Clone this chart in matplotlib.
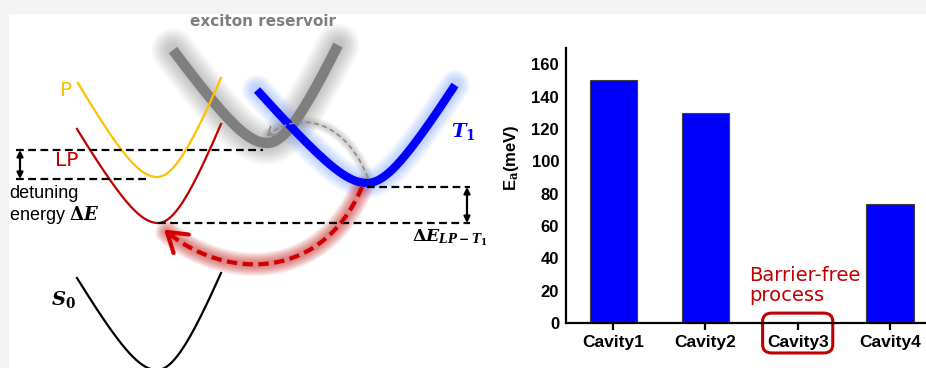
import numpy as np
import matplotlib
matplotlib.use('Agg')
import matplotlib.pyplot as plt
from matplotlib.patches import Rectangle, FancyBboxPatch
import matplotlib.transforms as mtransforms

plt.rcParams['mathtext.fontset'] = 'custom'
plt.rcParams['mathtext.it'] = 'DejaVu Serif:italic:bold'
plt.rcParams['mathtext.rm'] = 'DejaVu Serif:bold'
plt.rcParams['mathtext.bf'] = 'DejaVu Serif:bold'

# ---- bar chart data ----
cavities = ['Cavity1', 'Cavity2', 'Cavity3', 'Cavity4']
ea_mev = [150, 130, 0, 73.5]
highlight = 2  # barrier-free cavity
yticks = [0, 20, 40, 60, 80, 100, 120, 140, 160]

# ---- schematic (pixel space of the picture, y downwards) ----
# each curve: vertex x, vertex y, left end (x, y), right end (x, y)
curve_names = ['P', 'LP', 'S0', 'reservoir', 'T1']
curve_vertex = [(157, 177), (158, 223), (157, 370), (267, 143), (367, 183)]
curve_left = [(78, 83), (77, 129), (77, 278), (173, 50), (257, 90)]
curve_right = [(221, 78), (221, 124), (221, 273), (338, 45), (455, 85)]

# dashed energy levels: y, x start, x end
level_y = [150, 179, 187, 223]
level_x0 = [16, 16, 367, 158]
level_x1 = [263, 150, 470, 470]

# double arrows: x, y top, y bottom
gap_x = [20, 467]
gap_top = [150, 187]
gap_bot = [179, 223]

# curved arrows (cubic bezier control points)
red_ctrl = [(362, 187), (322, 282), (225, 280), (167, 232)]
gray_ctrl = [(368, 178), (345, 120), (300, 110), (268, 135)]


def branch_curve(vx, vy, lx, ly, rx, ry, r=35, n=200):
    # rounded V: hyperbola-like branches with separate slopes
    sl = (vy - ly) / (np.sqrt((lx - vx) ** 2 + r ** 2) - r)
    sr = (vy - ry) / (np.sqrt((rx - vx) ** 2 + r ** 2) - r)
    x = np.linspace(lx, rx, n)
    d = x - vx
    s = np.where(d < 0, sl, sr)
    y = vy - s * (np.sqrt(d ** 2 + r ** 2) - r)
    return x, y


def bezier(ctrl, n=200):
    p = np.array(ctrl, dtype=float)
    t = np.linspace(0, 1, n)[:, None]
    b = ((1 - t) ** 3) * p[0] + 3 * ((1 - t) ** 2) * t * p[1] + 3 * (1 - t) * t ** 2 * p[2] + t ** 3 * p[3]
    return b[:, 0], b[:, 1]


def glow(ax, x, y, color, lw, spread, n=10, alpha=0.06):
    for k in range(1, n + 1):
        ax.plot(x, y, color=color, lw=lw + spread * k / n, alpha=alpha,
                solid_capstyle='round', zorder=1)


def arrow_head(ax, ctrl, length, angle, color, lw, zorder):
    tip = np.array(ctrl[3], dtype=float)
    back = np.array(ctrl[2], dtype=float) - tip
    back = back / np.hypot(*back)
    for a in (angle, -angle):
        c, s = np.cos(np.radians(a)), np.sin(np.radians(a))
        d = np.array([c * back[0] - s * back[1], s * back[0] + c * back[1]])
        end = tip + length * d
        ax.plot([tip[0], end[0]], [tip[1], end[1]], color=color, lw=lw,
                solid_capstyle='round', zorder=zorder)


fig = plt.figure(figsize=(9.26, 3.68), dpi=100, facecolor='#f3f3f3')

ax0 = fig.add_axes([0, 0, 1, 1])
ax0.set_xlim(0, 926)
ax0.set_ylim(368, 0)
ax0.axis('off')
ax0.add_patch(Rectangle((9, 14), 917, 354, facecolor='white', edgecolor='none', zorder=0))

# thin polariton / ground-state curves
thin_colors = {'P': '#FFC000', 'LP': '#C00000', 'S0': 'black'}
for name, v, l, r in zip(curve_names, curve_vertex, curve_left, curve_right):
    x, y = branch_curve(v[0], v[1], l[0], l[1], r[0], r[1])
    if name in thin_colors:
        ax0.plot(x, y, color=thin_colors[name], lw=1.6, zorder=4)
    elif name == 'reservoir':
        glow(ax0, x, y, '#505050', 7, 24, alpha=0.035)
        ax0.plot(x, y, color='#7f7f7f', lw=7.5, solid_capstyle='butt', zorder=3)
    else:
        glow(ax0, x, y, '#6f9bff', 6, 16, alpha=0.05)
        ax0.plot(x, y, color='#0000FF', lw=6, solid_capstyle='butt', zorder=5)

# dashed levels
for y, x0, x1 in zip(level_y, level_x0, level_x1):
    ax0.plot([x0, x1], [y, y], color='black', lw=1.6, dashes=(3.5, 2), zorder=6)

for x, yt, yb in zip(gap_x, gap_top, gap_bot):
    ax0.annotate('', xy=(x, yt), xytext=(x, yb),
                 arrowprops=dict(arrowstyle='<|-|>', lw=1.6, color='black',
                                 mutation_scale=9, shrinkA=0, shrinkB=0), zorder=6)

# red relaxation arrow
rx, ry = bezier(red_ctrl)
glow(ax0, rx, ry, '#C00000', 3, 14, alpha=0.06)
ax0.plot(rx, ry, color='#D00000', lw=3, dashes=(2.5, 1.3), zorder=7)
arrow_head(ax0, red_ctrl, 22, 33, '#D00000', 3, 7)

# gray back-transfer arrow
gx, gy = bezier(gray_ctrl)
glow(ax0, gx, gy, '#808080', 1, 8, alpha=0.04)
ax0.plot(gx, gy, color='#8c8c8c', lw=1.2, dashes=(3, 2), zorder=6)
arrow_head(ax0, gray_ctrl, 9, 35, '#8c8c8c', 1.2, 6)

# labels
ax0.text(263, 22, 'exciton reservoir', color='#7f7f7f', fontsize=11,
         fontweight='bold', ha='center', va='center')
ax0.text(66.5, 90.5, 'P', color='#FFC000', fontsize=14.5, ha='center', va='center')
ax0.text(66.5, 160, 'LP', color='#C00000', fontsize=14.5, ha='center', va='center')
ax0.text(9, 185, 'detuning\nenergy $\\Delta E$', color='black', fontsize=13,
         family='Liberation Sans', ha='left', va='top', linespacing=1.1)
ax0.text(63, 299, '$S_\\mathrm{0}$', color='black', fontsize=14, ha='center', va='center')
ax0.text(463, 132, '$T_\\mathrm{1}$', color='#0000FF', fontsize=14, ha='center', va='center')
ax0.text(450, 238, '$\\Delta E_{LP-T_1}$', color='black', fontsize=12.5, ha='center', va='center')

# ---- bar chart ----
ax1 = fig.add_axes([566 / 926, 45 / 368, 360 / 926, 275 / 368])
ax1.patch.set_alpha(0)
xpos = np.arange(len(cavities))
ax1.bar(xpos, ea_mev, width=0.51, color='#0000FF', edgecolor='#404040', linewidth=0.8, zorder=2)
ax1.set_xlim(-0.51, 3.39)
ax1.set_ylim(0, 170)
ax1.set_xticks(xpos)
ax1.set_xticklabels(cavities, fontsize=12.5, fontweight='bold', family='Liberation Sans')
ax1.set_yticks(yticks)
ax1.set_yticklabels([str(v) for v in yticks], fontsize=12, fontweight='bold', family='Liberation Sans')
for s in ['top', 'right']:
    ax1.spines[s].set_visible(False)
for s in ['left', 'bottom']:
    ax1.spines[s].set_linewidth(1.6)
ax1.tick_params(axis='x', direction='out', length=5, width=1.6, pad=3.5)
ax1.tick_params(axis='y', length=0, pad=5)
ax1.set_ylabel('E$_\\mathbf{a}$(meV)', fontsize=12, fontweight='bold', family='Liberation Sans')
ax1.yaxis.set_label_coords(-0.125, 0.6)

# highlight the barrier-free cavity
trans = mtransforms.blended_transform_factory(ax1.transData, ax1.transAxes)
ax1.add_patch(FancyBboxPatch((highlight - 0.38, -0.109), 0.76, 0.145,
                             boxstyle='round,pad=0,rounding_size=0.1', transform=trans,
                             facecolor='none', edgecolor='#C00000', lw=2.2, clip_on=False,
                             mutation_aspect=0.3))
ax1.text(highlight - 0.53, 35, 'Barrier-free\nprocess', color='#C00000', fontsize=14,
         ha='left', va='top', linespacing=1.05)

fig.savefig('out.png', dpi=100, facecolor=fig.get_facecolor())
